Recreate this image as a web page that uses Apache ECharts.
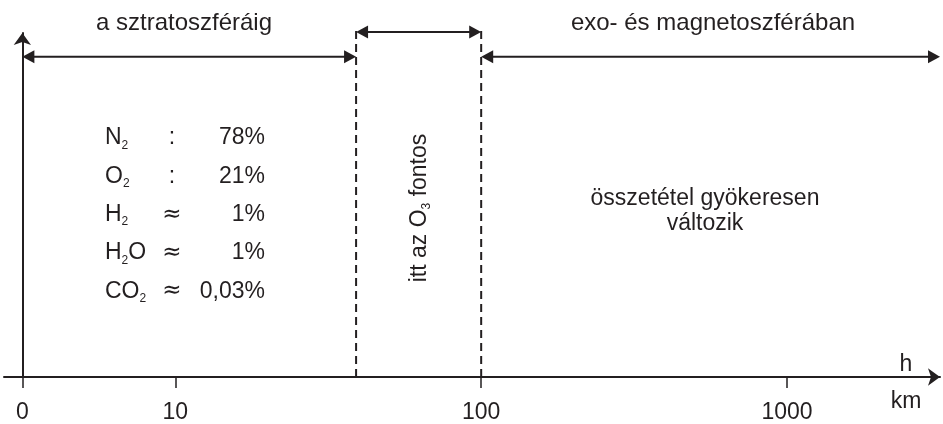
<!DOCTYPE html>
<html><head><meta charset="utf-8">
<script src="https://cdn.jsdelivr.net/npm/echarts@6/dist/echarts.min.js"></script>
<style>html,body{margin:0;padding:0;background:#fff}#c{width:943px;height:424px}</style>
</head><body><div id="c"></div>
<script>
// ---- data ----
const tickKm = [0, 10, 100, 1000];
const tickLabels = ['0', '10', '100', '1000'];
const boundaryKm = [39, 100];           // top of stratosphere region, start of exo/magnetosphere
const regionNames = ['a sztratoszféráig', 'exo- és magnetoszférában'];
const ozoneNote = ['itt az O', '3', ' fontos'];
const gasBase = ['N', 'O', 'H', 'H', 'CO'];
const gasSub = ['2', '2', '2', '2', '2'];
const gasTail = ['', '', '', 'O', ''];
const relations = [':', ':', '≈', '≈', '≈'];
const shares = ['78%', '21%', '1%', '1%', '0,03%'];
const upperNote = ['összetétel gyökeresen', 'változik'];
const axisName = ['h', 'km'];

// ---- layout / style ----
const INK = '#231f20';
const FONT = '"Liberation Sans", Arial, Helvetica, sans-serif';
const pos = km => km === 0 ? 0 : Math.log10(km) - 0.5;   // 0 km placed half a decade left of 10 km
const X_MIN = -0.06, X_MAX = 3.0, Y_MAX = 349;
const LOW = 325, HIGH = 350, DASH_TOP = 352;
const labelFor = v => {
  for (let i = 0; i < tickKm.length; i++) if (Math.abs(pos(tickKm[i]) - v) < 1e-6) return tickLabels[i];
  return '';
};
const richBase = {
  t: { fontSize: 23, lineHeight: 27, fontFamily: FONT, fill: INK },
  s: { fontSize: 12, lineHeight: 12, fontFamily: FONT, fill: INK, verticalAlign: 'bottom' }
};
const richRot = {
  t: { fontSize: 23, lineHeight: 26, fontFamily: FONT, fill: INK },
  s: { fontSize: 12, lineHeight: 12, fontFamily: FONT, fill: INK, verticalAlign: 'bottom' }
};

const graphics = [];
const txt = (text, x, y, size, align, fam) => graphics.push({
  type: 'text', x: x, y: y, silent: true,
  style: { text: text, font: size + 'px ' + (fam || FONT), fill: INK, align: align || 'center', verticalAlign: 'middle' }
});

txt(regionNames[0], 184, 23, 24);
txt(regionNames[1], 713, 23, 24);
const rowY0 = 138, rowStep = 38.3;
for (let i = 0; i < gasBase.length; i++) {
  const y = rowY0 + i * rowStep;
  let rt = '{t|' + gasBase[i] + '}{s|' + gasSub[i] + '}' + (gasTail[i] ? '{t|' + gasTail[i] + '}' : '');
  graphics.push({ type: 'text', x: 105, y: y, silent: true,
    style: { text: rt, rich: richBase, align: 'left', verticalAlign: 'middle', fill: INK } });
  txt(relations[i], 172, y, 23, 'center', relations[i] === '≈' ? '"DejaVu Sans", sans-serif' : FONT);
  txt(shares[i], 265, y, 23, 'right');
}
graphics.push({ type: 'text', x: 420, y: 208, rotation: Math.PI / 2, silent: true,
  style: { text: '{t|' + ozoneNote[0] + '}{s|' + ozoneNote[1] + '}{t|' + ozoneNote[2] + '}', rich: richRot,
           align: 'center', verticalAlign: 'middle', fill: INK } });
graphics.push({ type: 'text', x: 705, y: 211, silent: true,
  style: { text: upperNote.join('\n'), font: '23px ' + FONT, lineHeight: 25, fill: INK, align: 'center', verticalAlign: 'middle' } });
txt(axisName[0], 906, 365, 23);
txt(axisName[1], 906, 402, 23);

// double-headed arrows spanning the regions: [fromPos, toPos, level]
const arrowData = [
  [pos(0), pos(boundaryKm[0]), LOW],
  [pos(boundaryKm[0]), pos(boundaryKm[1]), HIGH],
  [pos(boundaryKm[1]), X_MAX, LOW]
];

const chart = echarts.init(document.getElementById('c'), null, { renderer: 'canvas' });
chart.setOption({
  animation: false,
  backgroundColor: '#fff',
  grid: { left: 4, right: 3, top: 33, bottom: 42 },
  xAxis: {
    type: 'value', min: X_MIN, max: X_MAX, splitLine: { show: false },
    axisLine: { show: true, onZero: false, symbol: ['none', 'arrow'], symbolSize: [13, 12],
                lineStyle: { color: INK, width: 2 } },
    axisTick: { show: true, customValues: tickKm.map(pos), length: 11, inside: false,
                lineStyle: { color: INK, width: 1.5 } },
    axisLabel: { show: true, customValues: tickKm.map(pos), formatter: labelFor, margin: 24,
                 fontSize: 23, color: INK, fontFamily: FONT }
  },
  yAxis: {
    type: 'value', min: 0, max: Y_MAX, splitLine: { show: false },
    axisLine: { show: true, onZero: true, symbol: ['none', 'arrow'], symbolSize: [13, 12],
                lineStyle: { color: INK, width: 2 } },
    axisTick: { show: false }, axisLabel: { show: false }
  },
  series: boundaryKm.map(b => ({
    type: 'line', clip: false, silent: true, showSymbol: false, symbol: 'none',
    data: [[pos(b), 0], [pos(b), DASH_TOP]],
    lineStyle: { color: INK, width: 2, type: [8, 5] }
  })).concat([{
    type: 'custom', silent: true, clip: false,
    data: arrowData,
    encode: { x: [0, 1], y: 2 },
    renderItem: (params, api) => {
      const a = api.coord([api.value(0), api.value(2)]);
      const b = api.coord([api.value(1), api.value(2)]);
      const L = 12, W = 6.5;
      return { type: 'group', children: [
        { type: 'line', shape: { x1: a[0] + L - 1, y1: a[1], x2: b[0] - L + 1, y2: b[1] },
          style: { stroke: INK, lineWidth: 2 } },
        { type: 'polygon', shape: { points: [[a[0], a[1]], [a[0] + L, a[1] - W], [a[0] + L, a[1] + W]] },
          style: { fill: INK } },
        { type: 'polygon', shape: { points: [[b[0], b[1]], [b[0] - L, b[1] - W], [b[0] - L, b[1] + W]] },
          style: { fill: INK } }
      ] };
    }
  }]),
  graphic: graphics
});
</script></body></html>
